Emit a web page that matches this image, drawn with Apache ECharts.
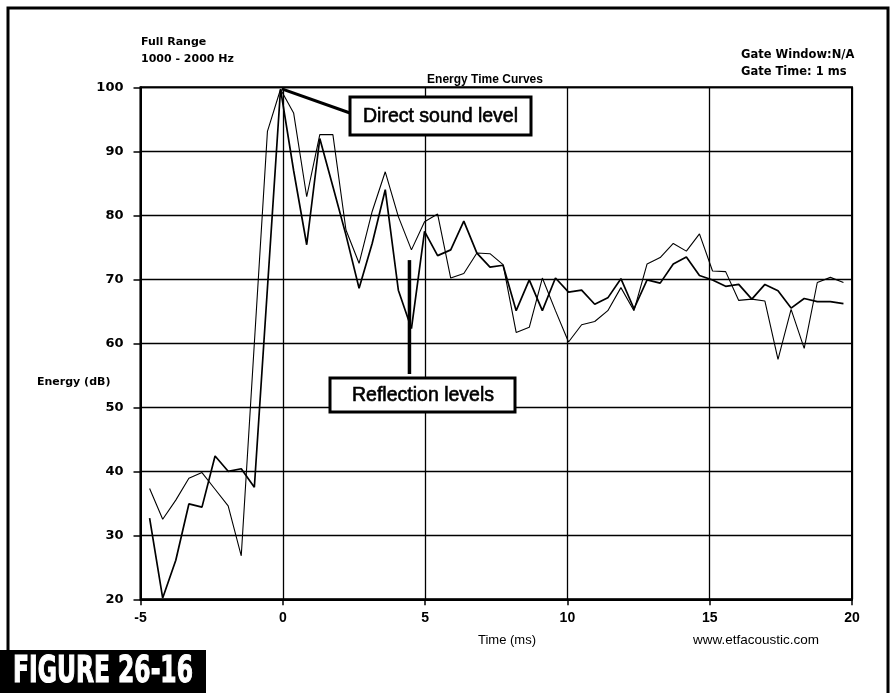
<!DOCTYPE html>
<html>
<head>
<meta charset="utf-8">
<script src="https://cdn.jsdelivr.net/npm/echarts@6/dist/echarts.min.js"></script>
<style>
html,body{margin:0;padding:0;background:#fff;}
#chart{width:896px;height:693px;}
</style>
</head>
<body>
<div id="chart"></div>
<script>
// ---- data ----
var timeMs = [-4.68,-4.22,-3.76,-3.30,-2.84,-2.38,-1.92,-1.46,-1.00,-0.54,
  -0.08,0.38,0.84,1.30,1.76,2.22,2.68,3.14,3.60,4.06,
  4.52,4.98,5.44,5.90,6.36,6.82,7.28,7.74,8.20,8.66,
  9.12,9.58,10.04,10.50,10.96,11.42,11.88,12.34,12.80,13.26,
  13.72,14.18,14.64,15.10,15.56,16.02,16.48,16.94,17.40,17.86,
  18.32,18.78,19.24,19.70];
var curveThin = [37.3,32.5,35.5,38.9,39.8,37.2,34.6,26.8,60.0,93.1,
  99.7,96.0,82.9,92.6,92.6,77.7,72.5,80.6,86.8,79.8,
  74.6,79.0,80.2,70.2,70.9,74.1,74.0,72.3,61.7,62.5,
  70.2,65.1,60.2,62.9,63.4,65.1,68.7,65.1,72.4,73.4,
  75.6,74.4,77.1,71.3,71.2,66.7,66.9,66.6,57.5,65.3,
  59.2,69.5,70.3,69.5];
var curveBold = [32.7,20.2,26.1,34.9,34.4,42.4,40.0,40.4,37.5,68.6,
  99.7,87.0,75.4,92.0,84.5,76.9,68.6,75.6,84.0,68.3,
  62.3,77.5,73.7,74.6,79.1,74.1,71.9,72.2,65.1,69.9,
  65.1,70.2,68.0,68.3,66.1,67.1,70.1,65.4,69.9,69.4,
  72.4,73.5,70.6,69.9,68.9,69.2,66.9,69.2,68.2,65.5,
  67.0,66.5,66.5,66.2];
var xTicks = {min: -5, max: 20, step: 5};
var yTicks = {min: 20, max: 100, step: 10};
var directPoint = [0, 100];
var reflectionPointer = [4.45, 73, 55.2];

function pairs(ys){ return ys.map(function(v,i){ return [timeMs[i], v]; }); }

var chart = echarts.init(document.getElementById('chart'), null, {renderer:'canvas'});
var LIB = 'Liberation Sans, Arial, sans-serif';
var DJ = 'DejaVu Sans, Verdana, sans-serif';

chart.setOption({
  animation:false,
  backgroundColor:'#fff',
  grid:{left:140.5, right:44, top:87.3, bottom:93.7, show:true, borderColor:'#000', borderWidth:2, backgroundColor:'transparent'},
  xAxis:{type:'value', min:xTicks.min, max:xTicks.max, interval:xTicks.step,
    axisLine:{show:true, onZero:false, lineStyle:{color:'#000', width:2}},
    axisTick:{show:true, length:6, lineStyle:{color:'#000', width:1.5}},
    axisLabel:{margin:12, fontSize:14, fontWeight:'bold', fontFamily:LIB, color:'#000'},
    splitLine:{show:true, lineStyle:{color:'#000', width:1.3}}},
  yAxis:{type:'value', min:yTicks.min, max:yTicks.max, interval:yTicks.step,
    axisLine:{show:true, onZero:false, lineStyle:{color:'#000', width:2}},
    axisTick:{show:true, length:7, lineStyle:{color:'#000', width:1.5}},
    axisLabel:{margin:17, fontSize:13, fontWeight:'bold', fontFamily:DJ, color:'#000'},
    splitLine:{show:true, lineStyle:{color:'#000', width:1.3}}},
  series:[
    {type:'line', data:pairs(curveThin), symbol:'none', lineStyle:{color:'#000', width:1.1}, z:3},
    {type:'line', data:pairs(curveBold), symbol:'none', lineStyle:{color:'#000', width:1.7}, z:4}
  ]
});

var pk = chart.convertToPixel({gridIndex:0}, directPoint);
var rTop = chart.convertToPixel({gridIndex:0}, [reflectionPointer[0], reflectionPointer[1]]);
var rBot = chart.convertToPixel({gridIndex:0}, [reflectionPointer[0], reflectionPointer[2]]);

chart.setOption({
  graphic:[
    // outer frame
    {type:'polyline', shape:{points:[[8,693],[8,8],[888,8],[888,693]]}, style:{stroke:'#000', lineWidth:3, fill:null}},
    {type:'text', left:141, top:37, style:{text:'Full Range', font:'bold 11px ' + DJ, fill:'#000'}},
    {type:'text', left:141, top:54, style:{text:'1000 - 2000 Hz', font:'bold 11px ' + DJ, fill:'#000'}},
    {type:'text', x:485, y:80, style:{text:'Energy Time Curves', font:'bold 12px ' + LIB, fill:'#000', align:'center', verticalAlign:'middle'}},
    {type:'text', left:741, top:49, style:{text:'Gate Window:N/A', font:'bold 11.5px ' + DJ, fill:'#000'}},
    {type:'text', left:741, top:66, style:{text:'Gate Time: 1 ms', font:'bold 11.5px ' + DJ, fill:'#000'}},
    {type:'text', left:37, top:377, style:{text:'Energy (dB)', font:'bold 11px ' + DJ, fill:'#000'}},
    {type:'text', x:507, y:640, style:{text:'Time (ms)', font:'13px ' + LIB, fill:'#000', align:'center', verticalAlign:'middle'}},
    {type:'text', x:756, y:640, style:{text:'www.etfacoustic.com', font:'13.5px ' + LIB, fill:'#000', align:'center', verticalAlign:'middle'}},
    // direct sound annotation
    {type:'line', shape:{x1:pk[0]-1, y1:pk[1]+1.5, x2:350, y2:113}, style:{stroke:'#000', lineWidth:3}, z:10},
    {type:'rect', shape:{x:350, y:97, width:181, height:38}, style:{fill:'#fff', stroke:'#000', lineWidth:3}, z:10},
    {type:'text', x:440.5, y:116.5, style:{text:'Direct sound level', font:'19.5px ' + LIB, fill:'#000', stroke:'#000', lineWidth:0.6, align:'center', verticalAlign:'middle'}, z:11},
    // reflection annotation
    {type:'line', shape:{x1:rTop[0], y1:rTop[1], x2:rBot[0], y2:rBot[1]}, style:{stroke:'#000', lineWidth:3.5}, z:10},
    {type:'rect', shape:{x:330, y:378, width:185, height:34}, style:{fill:'#fff', stroke:'#000', lineWidth:3}, z:10},
    {type:'text', x:423, y:395.5, style:{text:'Reflection levels', font:'19.5px ' + LIB, fill:'#000', stroke:'#000', lineWidth:0.6, align:'center', verticalAlign:'middle'}, z:11},
    // figure label
    {type:'rect', shape:{x:0, y:650, width:206, height:43}, style:{fill:'#000'}, z:12},
    {type:'text', x:103, y:672, scaleX:1, scaleY:1.45, originX:0, originY:0, style:{text:'FIGURE 26-16', font:'bold 26px DejaVu Sans Condensed, Liberation Sans Narrow, sans-serif', fill:'#fff', stroke:'#fff', lineWidth:0.8, align:'center', verticalAlign:'middle'}, z:13}
  ]
});
</script>
</body>
</html>
